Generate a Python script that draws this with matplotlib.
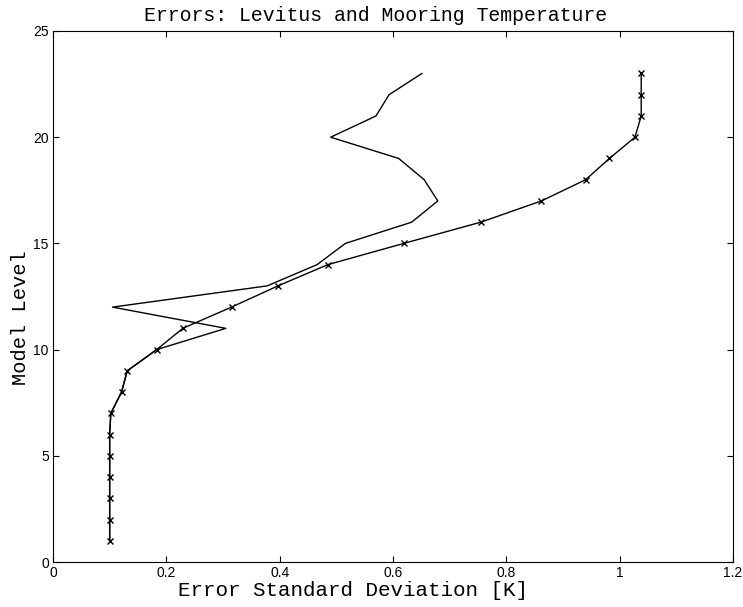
import numpy as np
import matplotlib
matplotlib.use("Agg")
import matplotlib.pyplot as plt

# model levels 1..23
levels = np.arange(1, 24)

# error std dev with x markers
err_marked = [0.10, 0.10, 0.10, 0.10, 0.10, 0.10, 0.102, 0.121, 0.131,
              0.183, 0.229, 0.315, 0.397, 0.485, 0.619, 0.755, 0.862,
              0.940, 0.982, 1.027, 1.038, 1.038, 1.038]

# second error curve (plain line)
err_plain = [0.10, 0.10, 0.10, 0.10, 0.10, 0.10, 0.102, 0.121, 0.131,
             0.183, 0.305, 0.105, 0.378, 0.466, 0.516, 0.633, 0.679,
             0.655, 0.610, 0.490, 0.570, 0.593, 0.651]

xticks = [0, 0.2, 0.4, 0.6, 0.8, 1.0, 1.2]
xtick_labels = ["0", "0.2", "0.4", "0.6", "0.8", "1", "1.2"]
yticks = [0, 5, 10, 15, 20, 25]

fig = plt.figure(figsize=(7.43, 6.07), dpi=100)
ax = fig.add_axes([53 / 743, 1 - 562 / 607, 680 / 743, 531 / 607])

ax.plot(err_plain, levels, color="black", lw=1.0)
ax.plot(err_marked, levels, color="black", lw=1.0, marker="x",
        markersize=5, markeredgewidth=1.0)

ax.set_xlim(0, 1.2)
ax.set_ylim(0, 25)
ax.set_xticks(xticks)
ax.set_xticklabels(xtick_labels)
ax.set_yticks(yticks)
ax.tick_params(direction="in", top=True, right=True, length=4,
               labelsize=10, pad=3)
for lab in ax.get_xticklabels() + ax.get_yticklabels():
    lab.set_family("Liberation Sans")

mono = "Liberation Mono"
ax.set_title("Errors: Levitus and Mooring Temperature", family=mono,
             fontsize=14.3, x=0.475, pad=7)
ax.set_xlabel("Error Standard Deviation [K]", family=mono, fontsize=15)
ax.xaxis.set_label_coords(0.441, -0.036)
ax.set_ylabel("Model Level", family=mono, fontsize=14.7)
ax.yaxis.set_label_coords(-0.034, 0.46)

fig.savefig("out.png", dpi=100)
